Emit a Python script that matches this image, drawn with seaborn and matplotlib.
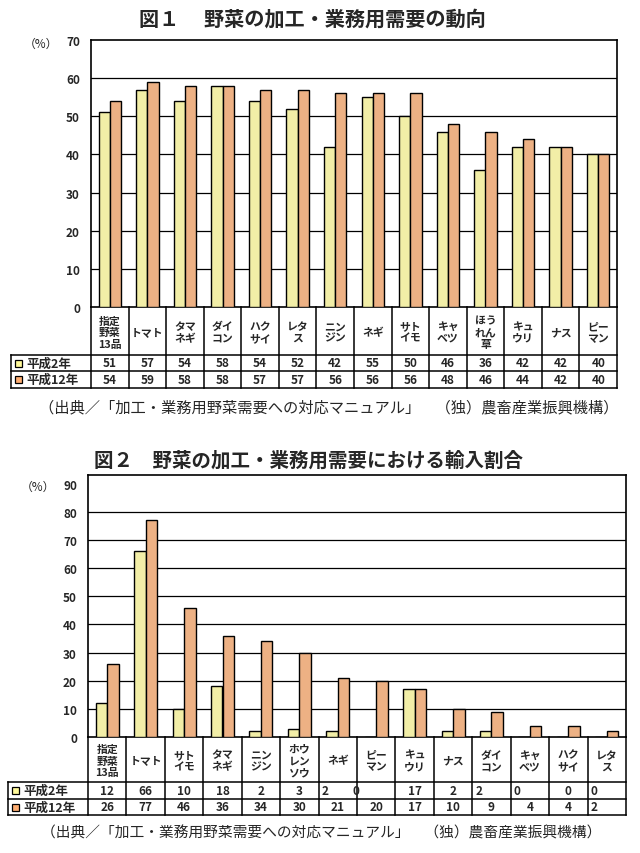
import matplotlib
matplotlib.use("Agg")
import matplotlib.pyplot as plt
from matplotlib.patches import Rectangle
from matplotlib.transforms import ScaledTranslation
import numpy as np
import pandas as pd
import seaborn as sns

# ---------------- data ----------------
series_names = ["平成2年", "平成12年"]

fig1_title = "図１　 野菜の加工・業務用需要の動向"
fig1_categories = ["指定\n野菜\n13品", "トマト", "タマ\nネギ", "ダイ\nコン", "ハク\nサイ", "レタ\nス",
                   "ニン\nジン", "ネギ", "サト\nイモ", "キャ\nベツ", "ほう\nれん\n草", "キュ\nウリ",
                   "ナス", "ピー\nマン"]
fig1_h2 = [51, 57, 54, 58, 54, 52, 42, 55, 50, 46, 36, 42, 42, 40]
fig1_h12 = [54, 59, 58, 58, 57, 57, 56, 56, 56, 48, 46, 44, 42, 40]
fig1_yticks = [0, 10, 20, 30, 40, 50, 60, 70]

fig2_title = "図２　野菜の加工・業務用需要における輸入割合"
fig2_categories = ["指定\n野菜\n13品", "トマト", "サト\nイモ", "タマ\nネギ", "ニン\nジン", "ホウ\nレン\nソウ",
                   "ネギ", "ピー\nマン", "キュ\nウリ", "ナス", "ダイ\nコン", "キャ\nベツ", "ハク\nサイ",
                   "レタ\nス"]
fig2_h2 = [12, 66, 10, 18, 2, 3, 2, 0, 17, 2, 2, 0, 0, 0]
fig2_h12 = [26, 77, 46, 36, 34, 30, 21, 20, 17, 10, 9, 4, 4, 2]
fig2_yticks = [0, 10, 20, 30, 40, 50, 60, 70, 80, 90]

source_text = "（出典／「加工・業務用野菜需要への対応マニュアル」　（独）農畜産業振興機構）"

# ---------------- style ----------------
YELLOW = "#FFF99A"
ORANGE = "#FFAE72"
W, H = 640, 854

sns.set_style("white")
plt.rcParams["font.family"] = ["Noto Sans CJK JP", "DejaVu Sans"]

fig = plt.figure(figsize=(W / 100, H / 100), dpi=100)
fig.patch.set_facecolor("white")


def fx(px):
    return px / W


def fy(py):
    return 1 - py / H


def make_chart(left, right, top, bottom, ytop, cats, v1, v2, yticks, table_rows,
               header_px, align1=None, align2=None, bar_width=0.6):
    n = len(cats)
    ax = fig.add_axes([fx(left), fy(bottom), fx(right) - fx(left), fy(top) - fy(bottom)])
    df = pd.DataFrame({
        "category": list(range(n)) * 2,
        "series": [series_names[0]] * n + [series_names[1]] * n,
        "value": list(v1) + list(v2),
    })
    sns.barplot(data=df, x="category", y="value", hue="series",
                palette=[YELLOW, ORANGE], width=bar_width, edgecolor="black",
                linewidth=1.0, ax=ax, legend=False, zorder=3)
    ax.set_xlim(-0.5, n - 0.5)
    ax.set_ylim(0, ytop)
    ax.set_yticks(yticks)
    ax.set_yticklabels([str(t) for t in yticks], fontsize=8.5, fontweight="bold")
    for lab in ax.get_yticklabels():
        lab.set_transform(lab.get_transform() + ScaledTranslation(0, -2 / 72, fig.dpi_scale_trans))
    ax.tick_params(axis="y", length=0, pad=8)
    ax.set_xticks([])
    ax.set_xlabel("")
    ax.set_ylabel("")
    for v in yticks[1:-1]:
        ax.axhline(v, color="black", lw=0.9, zorder=1)
    for s in ax.spines.values():
        s.set_visible(True)
        s.set_color("black")
        s.set_linewidth(1.2)
    ax.annotate("（%）", xy=(0, yticks[-1]), xycoords=("axes fraction", "data"),
                xytext=(-33, -3), textcoords="offset pixels", ha="right", va="center",
                fontsize=8.5)

    # ---- data table below the axes ----
    r0, r1, r2 = table_rows  # px offsets of row boundaries below the axis bottom
    tax = fig.add_axes([fx(left), fy(bottom + r2), fx(right) - fx(left), fy(bottom) - fy(bottom + r2)])
    tax.set_xlim(ax.get_xlim())
    tax.set_ylim(r2, 0)
    tax.axis("off")
    x0, x1 = ax.get_xlim()
    upp = (x1 - x0) / (right - left)
    xl = x0 - header_px * upp
    lk = dict(color="black", lw=1.1, clip_on=False, solid_capstyle="projecting")
    for i in range(n + 1):
        tax.plot([x0 + i, x0 + i], [0, r2], **lk)
    tax.plot([xl, xl], [r0, r2], **lk)
    for y in (r0, r1, r2):
        tax.plot([xl, x1], [y, y], **lk)
    for i, c in enumerate(cats):
        tax.text(i, r0 / 2 + 1, c, ha="center", va="center", fontsize=7.8,
                 linespacing=1.2, fontweight="bold")
    rows = [(v1, YELLOW, r0, r1, align1), (v2, ORANGE, r1, r2, align2)]
    for k, (vals, col, ya, yb, al) in enumerate(rows):
        ym = (ya + yb) / 2
        tax.add_patch(Rectangle((xl + 4 * upp, ym - 3.5), 7 * upp, 7, facecolor=col,
                                edgecolor="black", lw=0.9, clip_on=False))
        tax.text(xl + 15 * upp, ym, series_names[k], ha="left", va="center",
                 fontsize=9, fontweight="bold", clip_on=False)
        for i, v in enumerate(vals):
            a = al[i] if al else "c"
            kw = dict(va="center", fontsize=8.5, fontweight="bold")
            if a == "l":
                tax.text(i - 0.5 + 3 * upp, ym, str(v), ha="left", **kw)
            elif a == "rp":
                tax.text(i - 0.5 + 2 * upp, ym, str(v), ha="right", **kw)
            else:
                tax.text(i, ym, str(v), ha="center", **kw)
    return ax


# Figure 1
make_chart(91, 617, 41, 308, 70, fig1_categories, fig1_h2, fig1_h12, fig1_yticks,
           (48, 64, 81), header_px=80)
fig.text(fx(312), fy(19), fig1_title, ha="center", va="center", fontsize=14.5, fontweight="bold")
fig.text(fx(329), fy(408), source_text, ha="center", va="center", fontsize=11)

# Figure 2
fig2_align1 = ["c", "c", "c", "c", "c", "c", "l", "rp", "c", "c", "l", "l", "c", "l"]
fig2_align2 = ["c"] * 13 + ["l"]
make_chart(88, 626, 476, 738, 93.1, fig2_categories, fig2_h2, fig2_h12, fig2_yticks,
           (45, 62, 78), header_px=80, align1=fig2_align1, align2=fig2_align2)
fig.text(fx(308), fy(461), fig2_title, ha="center", va="center", fontsize=14, fontweight="bold")
fig.text(fx(321), fy(833), source_text, ha="center", va="center", fontsize=10.6)

fig.savefig("out.png", dpi=100, facecolor="white")
